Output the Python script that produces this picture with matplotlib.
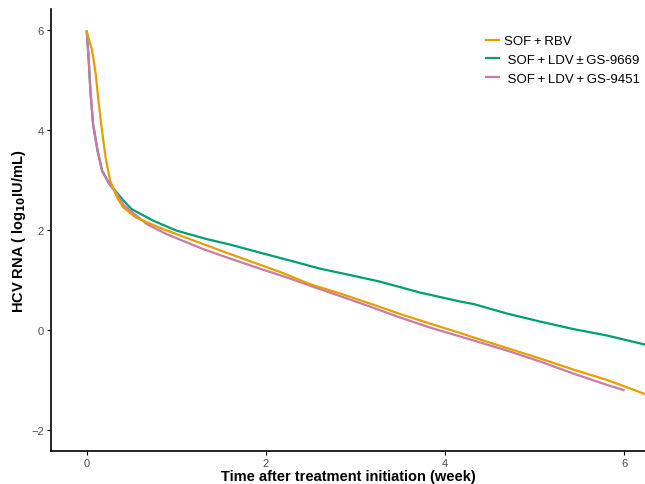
import numpy as np
import matplotlib.pyplot as plt

plt.rcParams['font.family'] = ['Liberation Sans', 'DejaVu Sans']

# SOF + RBV
t_rbv = [0.0, 0.06, 0.10, 0.13, 0.17, 0.21, 0.26, 0.34, 0.41, 0.55, 0.85, 1.30, 1.60,
         1.82, 2.16, 2.49, 2.83, 3.16, 3.50, 3.83, 4.17, 4.32, 4.69, 5.06, 5.43,
         5.81, 6.23]
v_rbv = [5.97, 5.59, 5.12, 4.59, 3.99, 3.45, 2.99, 2.65, 2.45, 2.25, 2.02, 1.72, 1.52,
         1.38, 1.16, 0.92, 0.73, 0.53, 0.32, 0.13, -0.06, -0.15, -0.36, -0.57, -0.79,
         -1.00, -1.28]

# SOF + LDV +/- GS-9669
t_9669 = [0.0, 0.02, 0.04, 0.07, 0.12, 0.17, 0.25, 0.34, 0.41, 0.50, 0.74, 1.0, 1.34,
          1.60, 1.93, 2.27, 2.60, 2.94, 3.27, 3.72, 4.17, 4.32, 4.69, 5.06, 5.43,
          5.81, 6.23]
v_9669 = [5.97, 5.45, 4.79, 4.12, 3.59, 3.19, 2.93, 2.74, 2.59, 2.42, 2.19, 1.99, 1.82,
          1.71, 1.55, 1.39, 1.23, 1.10, 0.97, 0.75, 0.57, 0.52, 0.33, 0.17, 0.02,
          -0.11, -0.29]

# SOF + LDV + GS-9451
t_9451 = [0.0, 0.02, 0.04, 0.07, 0.12, 0.17, 0.25, 0.34, 0.41, 0.67, 0.89, 1.30, 1.60,
          1.93, 2.27, 2.60, 2.94, 3.16, 3.50, 3.83, 4.17, 4.32, 4.69, 5.06, 5.43,
          5.81, 5.99]
v_9451 = [5.97, 5.45, 4.79, 4.12, 3.59, 3.19, 2.92, 2.72, 2.50, 2.12, 1.92, 1.62, 1.43,
          1.23, 1.03, 0.82, 0.61, 0.47, 0.25, 0.05, -0.13, -0.21, -0.41, -0.63, -0.87,
          -1.10, -1.20]

fig = plt.figure(figsize=(6.45, 4.85), dpi=100)
ax = fig.add_axes([0.079, 0.068, 0.921, 0.911])

l2, = ax.plot(t_9669, v_9669, color='#009E73', lw=1.6,
              label=' SOF\u2009+\u2009LDV\u2009±\u2009GS-9669')
l3, = ax.plot(t_9451, v_9451, color='#CC79A7', lw=1.6,
              label=' SOF\u2009+\u2009LDV\u2009+\u2009GS-9451')
l1, = ax.plot(t_rbv, v_rbv, color='#E69F00', lw=1.6,
              label='SOF\u2009+\u2009RBV')

ax.set_xlim(-0.40, 6.23)
ax.set_ylim(-2.42, 6.42)
ax.set_xticks([0, 2, 4, 6])
ax.set_yticks([-2, 0, 2, 4, 6])

for s in ['top', 'right']:
    ax.spines[s].set_visible(False)
for s in ['left', 'bottom']:
    ax.spines[s].set_linewidth(1.2)
ax.tick_params(labelsize=8, labelcolor='#4d4d4d', length=3, width=0.8, pad=2)

ax.set_xlabel('Time after treatment initiation (week)', fontsize=10.5,
              fontweight='bold', labelpad=1)
ax.set_ylabel(r'HCV RNA ( log$_{\mathbf{10}}$IU/mL)', fontsize=10.5,
              fontweight='bold', labelpad=2)

ax.legend(handles=[l1, l2, l3], loc='upper right', bbox_to_anchor=(0.993, 0.926),
          bbox_transform=fig.transFigure, borderaxespad=0, borderpad=0,
          frameon=False, fontsize=9.5, handlelength=1.0, handletextpad=0.4,
          labelspacing=0.5)

fig.savefig('out.png', dpi=100)
